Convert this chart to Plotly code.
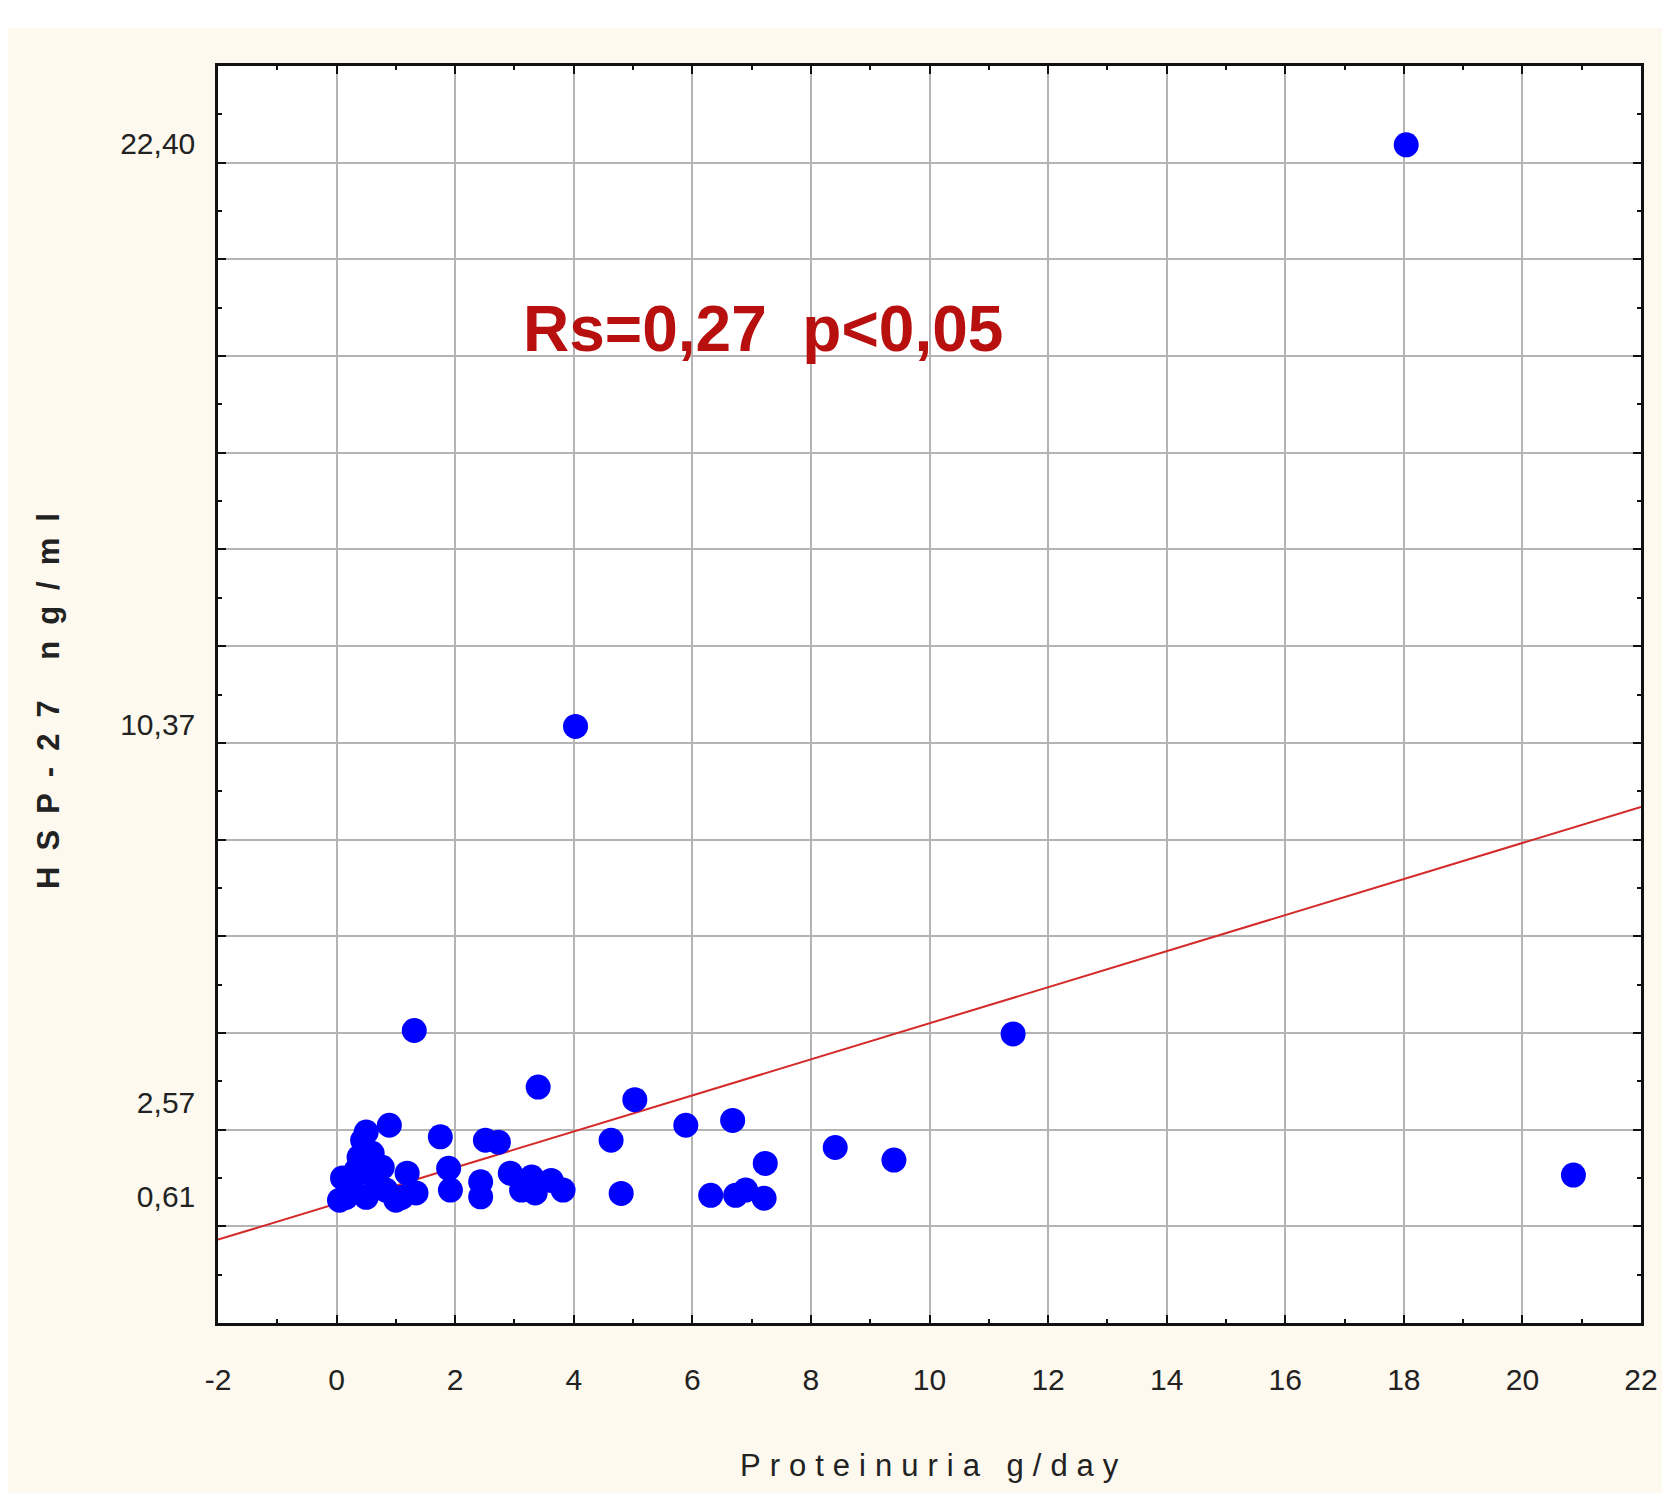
import plotly.graph_objects as go

# Data
proteinuria = [18.04, 4.03, 1.31, 11.41, 3.40, 5.03, 5.89, 6.68, 4.63, 8.41, 9.40, 7.23,
               20.86, 0.89, 1.75, 2.51, 2.73, 1.89, 1.92, 2.43, 2.43, 2.93, 3.12, 3.29,
               3.35, 3.62, 3.82, 1.19, 1.34, 4.80, 6.31, 6.73, 6.90, 7.21,
               0.50, 0.10, 0.16, 0.38, 0.44, 0.55, 0.50, 0.77, 0.83, 1.00, 0.27, 0.67,
               0.33, 0.05, 1.10, 0.60]
hsp27 = [22.37, 10.34, 4.05, 3.98, 2.88, 2.62, 2.09, 2.19, 1.78, 1.63, 1.37, 1.30,
         1.06, 2.09, 1.85, 1.78, 1.74, 1.20, 0.75, 0.92, 0.61, 1.10, 0.75, 1.02,
         0.69, 0.95, 0.75, 1.10, 0.69, 0.68, 0.64, 0.64, 0.75, 0.58,
         1.95, 1.00, 0.60, 1.43, 1.78, 1.10, 0.60, 1.22, 0.75, 0.54, 0.75, 0.81,
         1.16, 0.54, 0.60, 1.51]

# Regression line coefficients
fit_intercept = 0.47
fit_slope = 0.373
fit_x = [-2, 22]
fit_y = [fit_intercept + fit_slope * v for v in fit_x]

x_ticks = list(range(-2, 23, 2))
y_tickvals = [0.61, 2.57, 10.37, 22.40]
y_ticktext = ["0,61", "2,57", "10,37", "22,40"]

FONT = "Liberation Sans, Arial, sans-serif"
GRID = "#b4b4b4"

fig = go.Figure()
fig.add_trace(go.Scatter(x=fit_x, y=fit_y, mode="lines",
                         line=dict(color="#d42a2a", width=2), hoverinfo="skip",
                         showlegend=False))
fig.add_trace(go.Scatter(x=proteinuria, y=hsp27, mode="markers",
                         marker=dict(color="#0000ff", size=25, line=dict(width=0)),
                         showlegend=False))
# invisible trace to anchor the grid axis
fig.add_trace(go.Scatter(x=[None], y=[None], yaxis="y2", showlegend=False,
                         hoverinfo="skip"))

fig.update_layout(
    width=1662, height=1485,
    margin=dict(l=210, r=18, t=58, b=170),
    paper_bgcolor="#fdf9ee",
    plot_bgcolor="#ffffff",
    font=dict(family=FONT, color="#222222"),
    xaxis=dict(
        range=[-2, 22], tickvals=x_ticks, ticktext=[str(v) for v in x_ticks],
        showgrid=True, gridcolor=GRID, gridwidth=1.5, zeroline=False,
        ticks="inside", ticklen=8, tickwidth=2, tickcolor="#111",
        minor=dict(dtick=1, tick0=0, ticks="inside", ticklen=4, tickwidth=2,
                   tickcolor="#111", showgrid=False),
        showline=True, linecolor="#111", linewidth=2.5, mirror="ticks",
        tickfont=dict(size=30, family=FONT, color="#222"),
        ticklabelstandoff=28,
    ),
    yaxis=dict(
        range=[-2, 24], tickmode="array", tickvals=y_tickvals, ticktext=y_ticktext,
        showgrid=False, zeroline=False, ticks="",
        showline=True, linecolor="#111", linewidth=2.5, mirror=True,
        tickfont=dict(size=30, family=FONT, color="#222"),
        ticklabelstandoff=14,
    ),
    yaxis2=dict(
        overlaying="y", range=[-2, 24], tick0=0, dtick=2,
        showgrid=True, gridcolor=GRID, gridwidth=1.5, zeroline=False,
        showticklabels=False, ticks="inside", ticklen=8, tickwidth=2, tickcolor="#111",
        minor=dict(dtick=1, tick0=0, ticks="inside", ticklen=4, tickwidth=2,
                   tickcolor="#111", showgrid=False),
        showline=False, mirror="ticks", side="left",
    ),
    shapes=[dict(type="rect", xref="paper", yref="paper", x0=-0.2, x1=1.1,
                 y0=1.0302, y1=1.07, fillcolor="#ffffff", line=dict(width=0),
                 layer="below")],
    annotations=[
        dict(text="Rs=0,27\u00a0\u00a0p&lt;0,05", x=0.383, y=0.791,
             xref="paper", yref="paper", xanchor="center", yanchor="middle",
             showarrow=False, font=dict(size=64, family=FONT, color="#b80f0f", weight="bold")),
        dict(text='<span style="letter-spacing:9px">Proteinuria g/day</span>',
             x=0.503, y=-0.113, xref="paper", yref="paper", xanchor="center", yanchor="middle",
             showarrow=False, font=dict(size=31, family=FONT, color="#222")),
        dict(text='<span style="letter-spacing:16px">HSP-27 ng/ml</span>',
             x=-0.119, y=0.501, xref="paper", yref="paper", xanchor="center", yanchor="middle",
             showarrow=False, textangle=-90,
             font=dict(size=31, family=FONT, color="#222", weight="bold")),
    ],
)

fig.write_html("out.html")
